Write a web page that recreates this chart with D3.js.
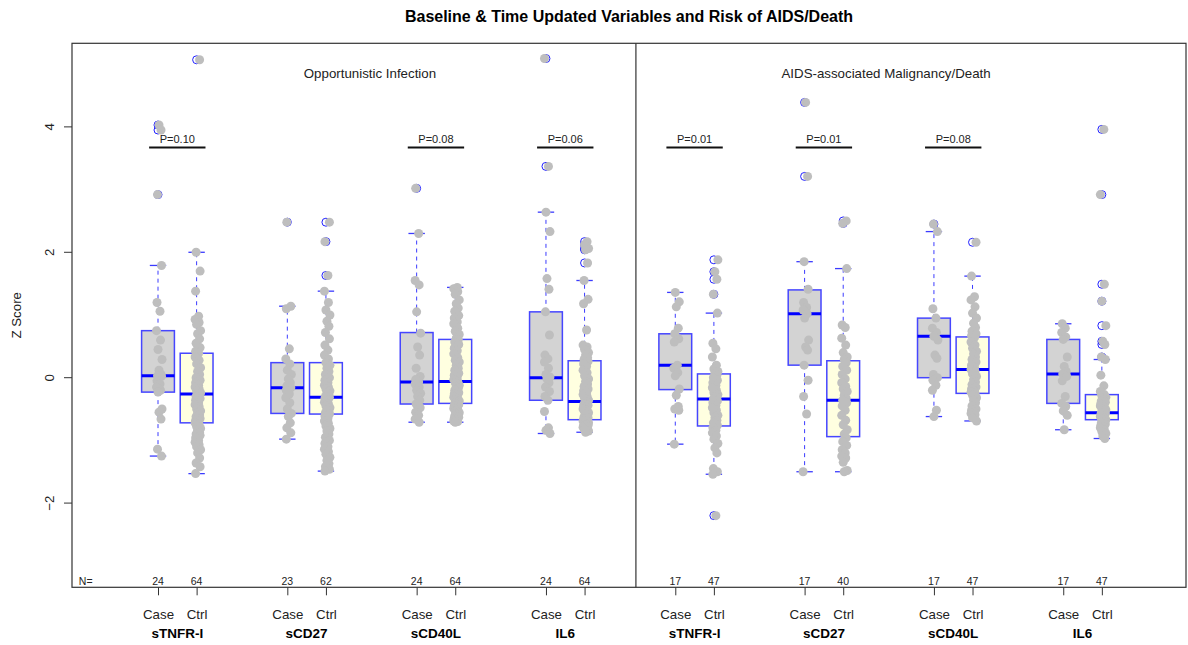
<!DOCTYPE html>
<html>
<head>
<meta charset="utf-8">
<script src="https://cdn.jsdelivr.net/npm/d3@7"></script>
<style>
  body { margin: 0; background: #fff; }
  svg { font-family: "Liberation Sans", Arial, sans-serif; }
  .axis .domain { display: none; }
  .axis line { stroke: #333; }
</style>
</head>
<body>
<div class="container"></div>
<script>
// markers and the two study panels
var markers = ['sTNFR-I', 'sCD27', 'sCD40L', 'IL6', 'sTNFR-I', 'sCD27', 'sCD40L', 'IL6'];
var arms = ['Case', 'Ctrl'];
var panels = [{name: 'Opportunistic Infection', at: 6.49}, {name: 'AIDS-associated Malignancy/Death', at: 19.86}];
var pLabels = ['P=0.10', '', 'P=0.08', 'P=0.06', 'P=0.01', 'P=0.01', 'P=0.08', ''];
var counts = [24, 64, 23, 62, 24, 64, 24, 64, 17, 47, 17, 40, 17, 47, 17, 47];
var yTicks = [-2, 0, 2, 4];

// box statistics, one per box (Case, Ctrl, Case, Ctrl ...)
var whiskLo = [-1.25, -1.53, -0.98, -1.49, -0.71, -0.71, -0.89, -0.87, -1.06, -1.54, -1.50, -1.50, -0.62, -0.69, -0.83, -0.97];
var q1      = [-0.23, -0.72, -0.57, -0.58, -0.42, -0.41, -0.36, -0.67, -0.19, -0.77, 0.20, -0.94, 0.00, -0.25, -0.41, -0.67];
var median  = [0.03, -0.26, -0.16, -0.31, -0.07, -0.06, 0.00, -0.38, 0.20, -0.34, 1.02, -0.36, 0.66, 0.13, 0.06, -0.56];
var q3      = [0.75, 0.39, 0.24, 0.24, 0.72, 0.61, 1.05, 0.27, 0.70, 0.06, 1.40, 0.27, 0.95, 0.65, 0.61, -0.27];
var whiskHi = [1.79, 2.00, 1.14, 1.38, 2.30, 1.44, 2.64, 1.55, 1.36, 1.03, 1.85, 1.74, 2.33, 1.62, 0.86, 0.29];

// individual z scores
var values = [
  [4.03, 3.95, 2.92, 1.79, 1.2, 1.06, 0.75, 0.6, 0.45, 0.29, 0.12, 0.05, 0.03, 0.02, -0.05, -0.1, -0.15, -0.2, -0.23, -0.5, -0.55, -0.66, -1.14, -1.25],
  [5.07, 2.0, 1.70, 1.38, 0.98, 0.93, 0.88, 0.85, 0.75, 0.70, 0.62, 0.55, 0.48, 0.42, 0.39, 0.33, 0.28, 0.22, 0.16, 0.10, 0.05, 0.0,
   -0.04, -0.08, -0.12, -0.15, -0.18, -0.21, -0.24, -0.26, -0.27, -0.30, -0.33, -0.36, -0.40, -0.43, -0.46, -0.50, -0.53, -0.56,
   -0.59, -0.62, -0.65, -0.68, -0.70, -0.72, -0.75, -0.78, -0.81, -0.84, -0.88, -0.90, -0.92, -0.96, -1.0, -1.03, -1.07, -1.10,
   -1.15, -1.2, -1.28, -1.36, -1.42, -1.53],
  [2.48, 1.14, 1.10, 0.46, 0.30, 0.22, 0.12, 0.05, -0.02, -0.08, -0.13, -0.16, -0.20, -0.26, -0.32, -0.40, -0.50, -0.57, -0.62, -0.72, -0.80, -0.88, -0.98],
  [2.48, 2.17, 1.63, 1.38, 1.20, 1.08, 1.00, 0.90, 0.82, 0.72, 0.62, 0.52, 0.44, 0.36, 0.30, 0.24, 0.20, 0.15, 0.10, 0.05, 0.0,
   -0.04, -0.08, -0.12, -0.15, -0.18, -0.21, -0.24, -0.27, -0.30, -0.31, -0.33, -0.36, -0.39, -0.42, -0.45, -0.48, -0.51, -0.54,
   -0.56, -0.58, -0.61, -0.65, -0.69, -0.73, -0.77, -0.81, -0.85, -0.90, -0.95, -1.00, -1.05, -1.10, -1.14, -1.18, -1.22, -1.27,
   -1.32, -1.37, -1.42, -1.46, -1.49],
  [3.02, 2.30, 1.55, 1.48, 1.05, 0.71, 0.49, 0.36, 0.15, 0.02, -0.03, -0.07, -0.10, -0.15, -0.20, -0.25, -0.30, -0.36, -0.42, -0.48, -0.55, -0.60, -0.66, -0.71],
  [1.44, 1.42, 1.37, 1.33, 1.24, 1.18, 1.11, 1.06, 0.99, 0.95, 0.89, 0.86, 0.79, 0.74, 0.69, 0.63,
   0.61, 0.57, 0.53, 0.47, 0.43, 0.38, 0.32, 0.28, 0.25, 0.20, 0.15, 0.12, 0.07, 0.04, 0.01, -0.03,
   -0.06, -0.08, -0.12, -0.14, -0.17, -0.20, -0.24, -0.26, -0.28, -0.31, -0.33, -0.35, -0.37, -0.39, -0.40, -0.41,
   -0.43, -0.45, -0.48, -0.49, -0.51, -0.53, -0.56, -0.57, -0.59, -0.61, -0.63, -0.65, -0.67, -0.69, -0.70, -0.71],
  [5.09, 3.37, 2.64, 2.33, 1.58, 1.41, 1.05, 0.68, 0.36, 0.30, 0.25, 0.15, 0.05, 0.01, -0.02, -0.08, -0.15, -0.22, -0.30, -0.36, -0.54, -0.80, -0.84, -0.89],
  [2.17, 2.12, 2.06, 2.04, 1.83, 1.55, 1.25, 1.18, 0.76, 0.52, 0.49, 0.45, 0.40, 0.36, 0.32, 0.29,
   0.26, 0.22, 0.18, 0.12, 0.08, 0.03, -0.02, -0.06, -0.10, -0.14, -0.18, -0.21, -0.24, -0.27, -0.30, -0.33,
   -0.36, -0.38, -0.40, -0.42, -0.44, -0.46, -0.48, -0.50, -0.52, -0.54, -0.56, -0.58, -0.60, -0.62, -0.64, -0.66,
   -0.68, -0.69, -0.70, -0.71, -0.72, -0.73, -0.74, -0.75, -0.76, -0.77, -0.78, -0.79, -0.81, -0.83, -0.85, -0.87],
  [1.36, 1.21, 1.13, 0.79, 0.70, 0.62, 0.57, 0.20, 0.15, 0.08, 0.03, -0.18, -0.28, -0.46, -0.50, -0.52, -1.06],
  [1.88, 1.69, 1.57, 1.33, 1.03, 0.55, 0.46, 0.33, 0.20, 0.14, 0.10, 0.07,
   0.04, 0.0, -0.04, -0.08, -0.12, -0.16, -0.20, -0.24, -0.27, -0.30, -0.32, -0.34, -0.37, -0.40, -0.44, -0.48, -0.52, -0.56, -0.60, -0.64, -0.68, -0.72, -0.76,
   -0.80, -0.84, -0.88, -0.93, -0.98, -1.05, -1.12, -1.20, -1.45, -1.50, -1.54, -2.20],
  [4.39, 3.21, 1.85, 1.41, 1.20, 1.12, 1.08, 1.02, 0.95, 0.60, 0.49, 0.44, 0.20, -0.04, -0.30, -0.58, -1.50],
  [2.50, 2.46, 1.74, 0.84, 0.80, 0.63, 0.52, 0.40, 0.33, 0.29,
   0.24, 0.18, 0.12, 0.05, -0.02, -0.08, -0.14, -0.18, -0.22, -0.28, -0.33, -0.36, -0.40, -0.45, -0.52, -0.60, -0.68, -0.75, -0.83, -0.90,
   -0.96, -1.02, -1.08, -1.15, -1.20, -1.25, -1.28, -1.35, -1.48, -1.50],
  [2.45, 2.33, 1.10, 0.95, 0.79, 0.72, 0.66, 0.60, 0.36, 0.31, 0.05, 0.00, -0.04, -0.12, -0.20, -0.52, -0.62],
  [2.16, 1.62, 1.29, 1.24, 1.13, 1.03, 0.95, 0.87, 0.80, 0.74, 0.70, 0.67,
   0.64, 0.57, 0.52, 0.47, 0.42, 0.38, 0.33, 0.29, 0.25, 0.20, 0.16, 0.13, 0.10, 0.06, 0.02, -0.03, -0.07, -0.11, -0.15, -0.18, -0.21, -0.23, -0.25,
   -0.28, -0.32, -0.36, -0.40, -0.45, -0.50, -0.52, -0.55, -0.57, -0.59, -0.64, -0.69],
  [0.86, 0.79, 0.72, 0.65, 0.61, 0.33, 0.18, 0.10, 0.06, 0.02, -0.05, -0.30, -0.41, -0.46, -0.53, -0.60, -0.83],
  [3.96, 2.92, 1.49, 1.22, 0.83, 0.58, 0.53, 0.33, 0.29, 0.04, -0.13, -0.22,
   -0.27, -0.29, -0.31, -0.33, -0.35, -0.37, -0.39, -0.41, -0.43, -0.45, -0.47, -0.49, -0.51, -0.53, -0.55, -0.56, -0.57, -0.59, -0.61, -0.62, -0.64, -0.65, -0.67,
   -0.68, -0.70, -0.72, -0.74, -0.76, -0.78, -0.80, -0.83, -0.86, -0.89, -0.93, -0.97]
];

var WIDTH = 1188, HEIGHT = 645;
var GROUP_STEP = 3.35;
var _x = d3.scaleLinear().domain([-1.228, 27.63]).range([72, 1186]);
var _y = d3.scaleLinear().domain([-3.343, 5.333]).range([587.3, 43.3]);
var BOX_W = 0.85;
var JITTER = [0, 2, -1.5, 2.5, -2, 1, -2.5, 1.5, -1, 3];

var boxPos = function (i) {
    return Math.floor(i / 2) * GROUP_STEP + (i % 2) + 1;
};

var boxes = counts.map(function (n, i) {
    return {
        i: i, pos: boxPos(i), arm: arms[i % 2], n: n,
        lo: whiskLo[i], q1: q1[i], med: median[i], q3: q3[i], hi: whiskHi[i],
        pts: values[i]
    };
});

var svg = d3.select('.container').append('svg')
    .attr('width', WIDTH).attr('height', HEIGHT);

svg.append('text')
    .attr('x', (72 + 1186) / 2).attr('y', 22)
    .attr('text-anchor', 'middle')
    .style('font-weight', 'bold').style('font-size', '16px')
    .text('Baseline & Time Updated Variables and Risk of AIDS/Death');

// y axis
var yAxis = d3.axisLeft(_y).tickValues(yTicks).tickSize(8).tickFormat(d3.format('d'));
var gy = svg.append('g').attr('class', 'axis').attr('transform', 'translate(72,0)').call(yAxis);
gy.selectAll('.tick').attr('transform', null);
gy.selectAll('.tick line').attr('y1', function (d) { return _y(d); }).attr('y2', function (d) { return _y(d); });
gy.selectAll('text')
    .attr('x', null).attr('dy', null).attr('y', 0)
    .attr('transform', function (d) { return 'translate(-18,' + _y(d) + ') rotate(-90)'; })
    .style('text-anchor', 'middle').style('font-size', '13.3px').style('fill', '#222');

svg.append('text')
    .attr('transform', 'translate(21,' + ((43.3 + 587.3) / 2) + ') rotate(-90)')
    .attr('text-anchor', 'middle').style('font-size', '13.3px').style('fill', '#222')
    .text('Z Score');

// x axis
var xAxis = d3.axisBottom(_x).tickValues(boxes.map(function (b) { return b.pos; }))
    .tickSize(8).tickFormat(function (d, i) { return arms[i % 2]; });
var gx = svg.append('g').attr('class', 'axis').attr('transform', 'translate(0,587.3)').call(xAxis);
gx.selectAll('text').attr('y', 22).style('font-size', '13.3px').style('fill', '#222');

svg.append('g').selectAll('text').data(markers).enter().append('text')
    .attr('x', function (d, g) { return _x(g * GROUP_STEP + 1.5); })
    .attr('y', 638)
    .attr('text-anchor', 'middle')
    .style('font-weight', 'bold').style('font-size', '13.5px')
    .text(function (d) { return d; });

// panel labels
svg.append('g').selectAll('text').data(panels).enter().append('text')
    .attr('x', function (d) { return _x(d.at); }).attr('y', 78)
    .attr('text-anchor', 'middle').style('font-size', '13.3px').style('fill', '#222')
    .text(function (d) { return d.name; });

var plot = svg.append('g');

// whiskers
var wh = plot.selectAll('.whisker').data(boxes).enter().append('g').attr('class', 'whisker');
wh.append('line')
    .attr('x1', function (d) { return _x(d.pos); }).attr('x2', function (d) { return _x(d.pos); })
    .attr('y1', function (d) { return _y(d.q3); }).attr('y2', function (d) { return _y(d.hi); })
    .attr('stroke', '#3b3bff').attr('stroke-dasharray', '4,4');
wh.append('line')
    .attr('x1', function (d) { return _x(d.pos); }).attr('x2', function (d) { return _x(d.pos); })
    .attr('y1', function (d) { return _y(d.q1); }).attr('y2', function (d) { return _y(d.lo); })
    .attr('stroke', '#3b3bff').attr('stroke-dasharray', '4,4');
['hi', 'lo'].forEach(function (k) {
    wh.append('line')
        .attr('x1', function (d) { return _x(d.pos - BOX_W / 4); })
        .attr('x2', function (d) { return _x(d.pos + BOX_W / 4); })
        .attr('y1', function (d) { return _y(d[k]); }).attr('y2', function (d) { return _y(d[k]); })
        .attr('stroke', '#3b3bff').attr('stroke-width', 1.3);
});

// boxes
plot.selectAll('.box').data(boxes).enter().append('rect')
    .attr('class', 'box')
    .attr('x', function (d) { return _x(d.pos - BOX_W / 2); })
    .attr('width', _x(BOX_W) - _x(0))
    .attr('y', function (d) { return _y(d.q3); })
    .attr('height', function (d) { return _y(d.q1) - _y(d.q3); })
    .attr('fill', function (d) { return d.arm === 'Case' ? '#d3d3d3' : '#ffffe0'; })
    .attr('stroke', '#4646ff').attr('stroke-width', 1.5);

// outliers as open circles
var outliers = [];
boxes.forEach(function (b) {
    b.pts.forEach(function (v) {
        if (v > b.hi + 1e-9 || v < b.lo - 1e-9) outliers.push({pos: b.pos, v: v});
    });
});
plot.selectAll('.out').data(outliers).enter().append('circle')
    .attr('class', 'out')
    .attr('cx', function (d) { return _x(d.pos); }).attr('cy', function (d) { return _y(d.v); })
    .attr('r', 4).attr('fill', 'none').attr('stroke', '#2020ff').attr('stroke-width', 1);

// medians
plot.selectAll('.med').data(boxes).enter().append('line')
    .attr('class', 'med')
    .attr('x1', function (d) { return _x(d.pos - BOX_W / 2); })
    .attr('x2', function (d) { return _x(d.pos + BOX_W / 2); })
    .attr('y1', function (d) { return _y(d.med); }).attr('y2', function (d) { return _y(d.med); })
    .attr('stroke', '#0000ff').attr('stroke-width', 3);

// jittered points
var dots = [];
boxes.forEach(function (b) {
    b.pts.forEach(function (v, j) { dots.push({pos: b.pos, v: v, j: JITTER[(j + b.i) % JITTER.length] + 1}); });
});
plot.selectAll('.dot').data(dots).enter().append('circle')
    .attr('class', 'dot')
    .attr('cx', function (d) { return _x(d.pos) + d.j; }).attr('cy', function (d) { return _y(d.v); })
    .attr('r', 4.5).attr('fill', '#bebebe');

// p-value bars
var pData = pLabels.map(function (t, g) { return {t: t, g: g}; }).filter(function (d) { return d.t !== ''; });
var pv = plot.selectAll('.pv').data(pData).enter().append('g').attr('class', 'pv');
pv.append('line')
    .attr('x1', function (d) { return _x(d.g * GROUP_STEP + 1 - 0.23); })
    .attr('x2', function (d) { return _x(d.g * GROUP_STEP + 2 + 0.23); })
    .attr('y1', _y(3.67)).attr('y2', _y(3.67))
    .attr('stroke', '#111').attr('stroke-width', 2);
pv.append('text')
    .attr('x', function (d) { return _x(d.g * GROUP_STEP + 1.5); })
    .attr('y', _y(3.67) - 4.5)
    .attr('text-anchor', 'middle').style('font-size', '11px').style('fill', '#222')
    .text(function (d) { return d.t; });

// N counts
svg.append('text').attr('x', _x(-1.05)).attr('y', 585)
    .style('font-size', '10.5px').style('fill', '#222').text('N=');
svg.append('g').selectAll('text').data(boxes).enter().append('text')
    .attr('x', function (d) { return _x(d.pos); }).attr('y', 585)
    .attr('text-anchor', 'middle').style('font-size', '10.5px').style('fill', '#222')
    .text(function (d) { return d.n; });

// frame and panel divider
svg.append('rect').attr('x', 72).attr('y', 43.3).attr('width', 1186 - 72).attr('height', 587.3 - 43.3)
    .attr('fill', 'none').attr('stroke', '#333').attr('stroke-width', 1.2);
svg.append('line').attr('x1', _x(13.38)).attr('x2', _x(13.38)).attr('y1', 43.3).attr('y2', 587.3)
    .attr('stroke', '#333').attr('stroke-width', 1.2);
</script>
</body>
</html>
